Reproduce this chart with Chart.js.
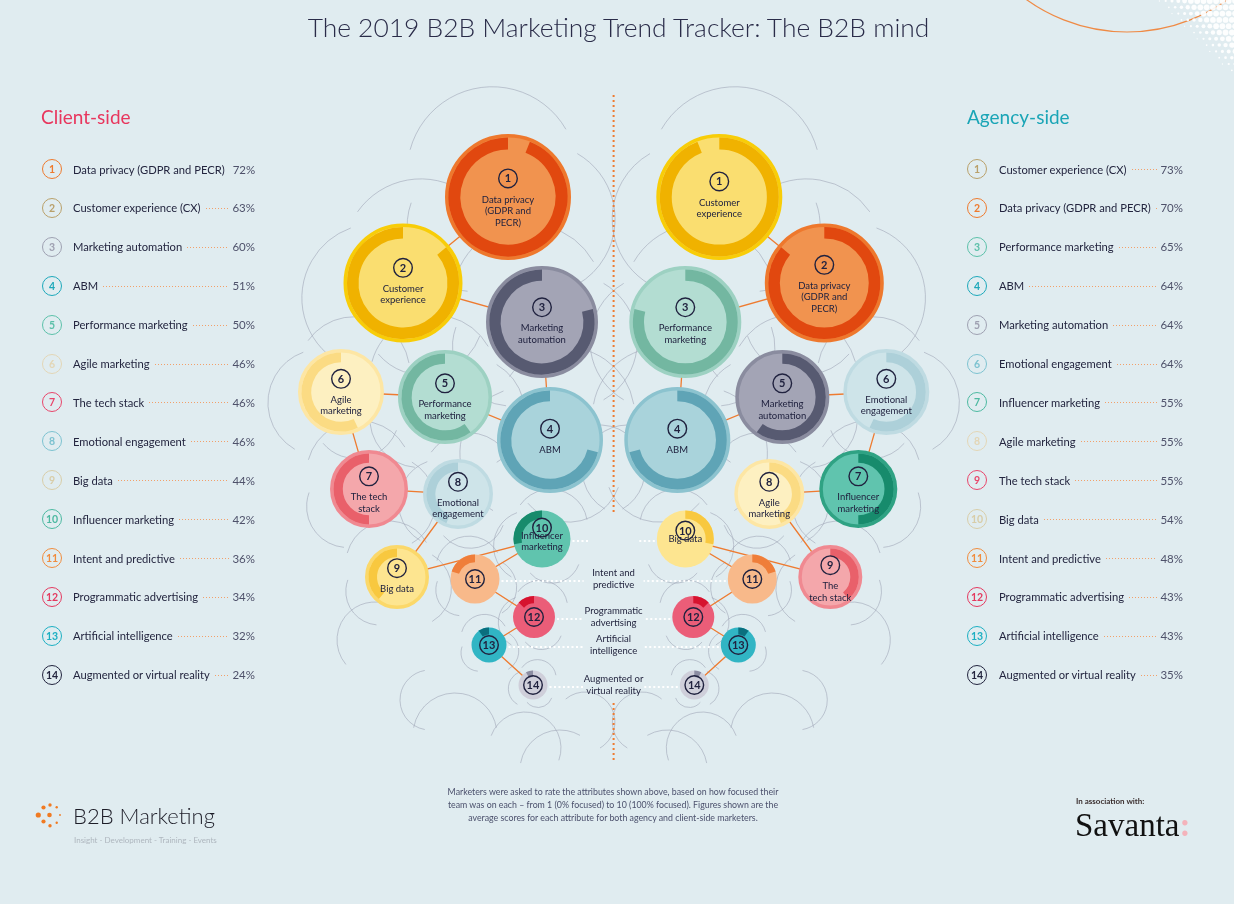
<!DOCTYPE html>
<html><head><meta charset="utf-8">
<script src="https://cdn.jsdelivr.net/npm/chart.js@4.4.1/dist/chart.umd.min.js"></script>
<style>
html,body{margin:0;padding:0}
body{width:1234px;height:904px;overflow:hidden;position:relative;background:#E0ECF0;font-family:Lato,"Open Sans",sans-serif;color:#272944}
#c{position:absolute;left:0;top:0}
.abs{position:absolute;white-space:nowrap}
#title{left:0;width:1237px;top:10px;text-align:center;font-size:26.4px;font-weight:300;line-height:34px;color:#2A2C49}
.side{font-size:19px;line-height:24px;top:105px}
.row{position:absolute;height:22px;display:flex;align-items:center;font-size:11.2px;white-space:nowrap}
.num{width:20px;height:20px;border:1.5px solid;border-radius:50%;box-sizing:border-box;display:flex;align-items:center;justify-content:center;font-weight:700;font-size:10.5px;flex:none}
.lab{color:#23253F;flex:none}
.lead{flex:1 1 auto;min-width:0;height:1px;margin:1px 3px 0 5px;background-image:linear-gradient(to right,#F2A06A 40%,transparent 40%);background-size:3px 1px;background-repeat:repeat-x}
.pct{color:#4E516A;flex:none;font-size:11.5px}
.mid{position:absolute;font-size:9.5px;line-height:11.5px;text-align:center;width:140px;color:#23253F}
</style></head>
<body>
<canvas id="c" width="1234" height="904"></canvas>
<div id="title" class="abs">The 2019 B2B Marketing Trend Tracker: The B2B mind</div>
<div class="abs side" style="left:41px;color:#E8365D">Client-side</div>
<div class="abs side" style="left:967px;color:#1AA5B6">Agency-side</div>
<div class="abs" style="left:363px;width:500px;top:786px;text-align:center;font-size:8.8px;line-height:12.8px;color:#4B506C">Marketers were asked to rate the attributes shown above, based on how focused their<br>team was on each – from 1 (0% focused) to 10 (100% focused). Figures shown are the<br>average scores for each attribute for both agency and client-side marketers.</div>
<div class="abs" style="left:73px;top:802px;font-size:22px;line-height:28px;font-weight:300;color:#1D1D28">B2B Marketing</div>
<div class="abs" style="left:74px;top:835px;font-size:8px;line-height:11px;color:#AEB6BE">Insight - Development - Training - Events</div>
<div class="abs" style="left:1076px;top:796px;font-size:8px;line-height:11px;font-weight:700;color:#3B2F2F">In association with:</div>
<div class="abs" style="left:1075px;top:806px;font-size:33px;line-height:38px;font-family:'Liberation Serif','DejaVu Serif',serif;color:#111">Savanta<span style="color:#F4B3BB;font-weight:700">:</span></div>
<script>
// ---------- DATA ----------
const CLIENT_ATTRIBUTES = ["Data privacy (GDPR and PECR)","Customer experience (CX)","Marketing automation","ABM","Performance marketing","Agile marketing","The tech stack","Emotional engagement","Big data","Influencer marketing","Intent and predictive","Programmatic advertising","Artificial intelligence","Augmented or virtual reality"];
const CLIENT_SCORES = [72,63,60,51,50,46,46,46,44,42,36,34,32,24];
const AGENCY_ATTRIBUTES = ["Customer experience (CX)","Data privacy (GDPR and PECR)","Performance marketing","ABM","Marketing automation","Emotional engagement","Influencer marketing","Agile marketing","The tech stack","Big data","Intent and predictive","Programmatic advertising","Artificial intelligence","Augmented or virtual reality"];
const AGENCY_SCORES = [73,70,65,64,64,64,55,55,55,54,48,43,43,35];
const CLIENT_BUBBLE_LABELS = [["Data privacy","(GDPR and","PECR)"],["Customer","experience"],["Marketing","automation"],["ABM"],["Performance","marketing"],["Agile","marketing"],["The tech","stack"],["Emotional","engagement"],["Big data"],["Influencer","marketing"],[],[],[],[]];
const AGENCY_BUBBLE_LABELS = [["Customer","experience"],["Data privacy","(GDPR and","PECR)"],["Performance","marketing"],["ABM"],["Marketing","automation"],["Emotional","engagement"],["Influencer","marketing"],["Agile","marketing"],["The","tech stack"],["Big data"],[],[],[],[]];
const CENTER_LABELS = [["Intent and","predictive"],["Programmatic","advertising"],["Artificial","intelligence"],["Augmented or","virtual reality"]];

// ---------- LAYOUT / STYLE ----------
const SLOT_X = [508,403,542,550,445,341,369,458,397,542,475,534,489,533];
const SLOT_Y = [197,283,322,440,397,392,489,494,577,539,579,617,645,685];
const MIRROR_X = 1227.3;
const MID_X = 613.6;
const RANK_R = [63,59.5,56,53,47,43,39,35,32,28.5,24.5,21,17.5,14.5];
const RANK_SWEEP = [0.94,0.86,0.79,0.71,0.6,0.57,0.5,0.44,0.39,0.28,0.2,0.13,0.1,0.08];
const LIST_Y0 = 169, LIST_STEP = 38.9;
const STYLE = {
 "Data privacy (GDPR and PECR)": {fill:"#F1934F",dark:"#E1480F",rim:"#EE782D",list:"#EE7A2E"},
 "Customer experience (CX)":     {fill:"#FADE70",dark:"#F0B200",rim:"#F8CD08",list:"#B9A06A"},
 "Marketing automation":         {fill:"#A3A4B5",dark:"#575A71",rim:"#8A8C9F",list:"#9EA0B1"},
 "ABM":                          {fill:"#A9D3DB",dark:"#5FA4B6",rim:"#8CC3CF",list:"#1DA8BA"},
 "Performance marketing":        {fill:"#B3DDD2",dark:"#73B7A1",rim:"#9DD1C2",list:"#5CC0A9"},
 "Agile marketing":              {fill:"#FDF0C1",dark:"#FBDB83",rim:"#FDE6A4",list:"#E3D6B6"},
 "The tech stack":               {fill:"#F4A7AB",dark:"#E9606A",rim:"#F08991",list:"#E8456A"},
 "Emotional engagement":         {fill:"#CEE4E9",dark:"#ADD0D9",rim:"#BFDBE2",list:"#7DC2D0"},
 "Big data":                     {fill:"#FDE590",dark:"#F8C83F",rim:"#FBD86A",list:"#D8CDA8"},
 "Influencer marketing":         {fill:"#60C4AE",dark:"#178B6C",rim:"#2FA283",list:"#4DB9A1"},
 "Intent and predictive":        {fill:"#F8B98A",dark:"#EF7E3A",rim:"#F39A5E",list:"#F08C3E"},
 "Programmatic advertising":     {fill:"#EB5D78",dark:"#D6132F",rim:"#E23A55",list:"#E4395F"},
 "Artificial intelligence":      {fill:"#31B5C4",dark:"#0A6F7E",rim:"#1E93A3",list:"#1CAFC2"},
 "Augmented or virtual reality": {fill:"#CFCFDA",dark:"#8C8DA2",rim:"#AEAFBF",list:"#22243E"}
};
const INK = "#20223F";
const rimW = i => i < 9 ? 3.5 : 0;
const xFor = (side, i) => side === 0 ? SLOT_X[i] : MIRROR_X - SLOT_X[i];

// ---------- HTML lists ----------
function buildList(attrs, scores, left, width, gap) {
  attrs.forEach((a, i) => {
    const row = document.createElement('div');
    row.className = 'row';
    row.style.left = left + 'px';
    row.style.width = width + 'px';
    row.style.top = (LIST_Y0 + i * LIST_STEP - 11) + 'px';
    const c = STYLE[a].list;
    row.innerHTML = `<span class="num" style="border-color:${c};color:${c}">${i + 1}</span><span class="lab" style="margin-left:${gap}px">${a}</span><span class="lead"></span><span class="pct">${scores[i]}%</span>`;
    document.body.appendChild(row);
  });
}
buildList(CLIENT_ATTRIBUTES, CLIENT_SCORES, 42, 213, 11);
buildList(AGENCY_ATTRIBUTES, AGENCY_SCORES, 967, 216, 12);
CENTER_LABELS.forEach((lines, k) => {
  const d = document.createElement('div');
  d.className = 'mid';
  d.style.left = (MID_X - 70) + 'px';
  d.style.top = (SLOT_Y[10 + k] - 12) + 'px';
  d.innerHTML = lines.join('<br>');
  document.body.appendChild(d);
});

// ---------- datasets ----------
function bubbleDataset(side, attrs) {
  return {
    type: 'bubble', order: 1, label: side === 0 ? 'Client-side' : 'Agency-side',
    data: attrs.map((a, i) => ({x: xFor(side, i), y: SLOT_Y[i], r: RANK_R[i] - rimW(i) / 2})),
    backgroundColor: attrs.map(a => STYLE[a].fill),
    borderColor: attrs.map(a => STYLE[a].rim),
    borderWidth: attrs.map((a, i) => rimW(i)),
    side: side, attrs: attrs
  };
}
function chainDataset(side, attrs) {
  return {
    type: 'line', order: 2, label: 'links',
    data: attrs.map((a, i) => ({x: xFor(side, i), y: SLOT_Y[i]})),
    borderColor: '#EE7B30', borderWidth: 1.3, pointRadius: 0, fill: false, tension: 0
  };
}

const GHOSTS_A = [[-0.25,-0.4,1.35,195,330],[0.5,0.35,1.2,300,60],[-0.55,0.45,1.05,95,200]];
const GHOSTS_B = [[0.3,-0.45,1.3,215,350],[-0.45,0.25,1.25,120,250],[0.35,0.55,1.0,20,140]];
const EXTRA_GHOSTS = [[455,735,42,190,350],[525,748,36,200,20],[585,722,30,230,60],[430,700,30,100,260],[560,770,40,190,300],[375,640,38,140,300],[600,470,45,250,60]];

const decoPlugin = {
  id: 'deco',
  beforeDatasetsDraw(chart) {
    const ctx = chart.ctx, sx = chart.scales.x, sy = chart.scales.y;
    ctx.save();
    ctx.strokeStyle = 'rgba(160,167,184,0.6)';
    ctx.lineWidth = 1;
    const D = Math.PI / 180;
    for (let side = 0; side < 2; side++) {
      for (let i = 0; i < 14; i++) {
        const cx = sx.getPixelForValue(xFor(side, i)), cy = sy.getPixelForValue(SLOT_Y[i]), R = RANK_R[i];
        const specs = i % 2 ? GHOSTS_B : GHOSTS_A;
        const s = side ? -1 : 1;
        specs.forEach(([dx, dy, k, a0, a1]) => {
          let b0 = a0 * D, b1 = a1 * D;
          if (side) { const t0 = Math.PI - b1, t1 = Math.PI - b0; b0 = t0; b1 = t1; }
          ctx.beginPath(); ctx.arc(cx + s * dx * R, cy + dy * R, k * R, b0, b1); ctx.stroke();
        });
      }
      EXTRA_GHOSTS.forEach(([x, y, r, a0, a1]) => {
        let b0 = a0 * D, b1 = a1 * D, X = x;
        if (side) { X = MIRROR_X - x; const t0 = Math.PI - b1, t1 = Math.PI - b0; b0 = t0; b1 = t1; }
        ctx.beginPath(); ctx.arc(sx.getPixelForValue(X), sy.getPixelForValue(y), r, b0, b1); ctx.stroke();
      });
    }
    ctx.fillStyle = '#EE7B30';
    const vx = sx.getPixelForValue(MID_X) - 1;
    for (let y = 95; y <= 512; y += 5) ctx.fillRect(vx, y, 2, 2);
    for (let y = 703; y <= 760; y += 5) ctx.fillRect(vx, y, 2, 2);
    ctx.strokeStyle = '#EF8A45'; ctx.lineWidth = 1.2;
    ctx.beginPath(); ctx.arc(1127, -140, 172, 0, Math.PI); ctx.stroke();
    ctx.fillStyle = 'rgba(255,255,255,0.92)';
    for (let j = 0; j < 14; j++) {
      const y = 1 + j * 6.3;
      for (let k = 0; k < 14; k++) {
        const x = 1235 - k * 6.3 - (j % 2) * 3.15;
        const t = (x - 1158) - y * 0.99;
        if (t <= 0) continue;
        const r = Math.min(2.9, 0.6 + t * 0.07);
        ctx.beginPath(); ctx.arc(x, y, r, 0, 2 * Math.PI); ctx.fill();
      }
    }
    ctx.fillStyle = '#F07A22';
    [[38.3,815,2.6],[43.5,807.5,2.1],[50,805,1.7],[56.7,807.3,1.2],[43.5,821.5,2.1],[50,825.7,1.7],[56.7,822.7,1.2],[49.5,815,2.3],[60,815,0.9]]
      .forEach(([x, y, r]) => { ctx.beginPath(); ctx.arc(x, y, r, 0, 2 * Math.PI); ctx.fill(); });
    ctx.restore();
  },
  afterDatasetsDraw(chart) {
    const ctx = chart.ctx;
    ctx.save();
    chart.data.datasets.forEach((ds, di) => {
      if (ds.type !== 'bubble') return;
      const meta = chart.getDatasetMeta(di);
      const side = ds.side;
      const labels = side === 0 ? CLIENT_BUBBLE_LABELS : AGENCY_BUBBLE_LABELS;
      meta.data.forEach((el, i) => {
        const a = ds.attrs[i], st = STYLE[a], R = RANK_R[i];
        const cx = el.x, cy = el.y;
        const band = 5 + 0.11 * R;
        const rr = R - rimW(i) - band / 2;
        const sw = RANK_SWEEP[i] * 2 * Math.PI;
        ctx.strokeStyle = st.dark; ctx.lineWidth = band; ctx.lineCap = 'butt';
        ctx.beginPath();
        if (side === 0) ctx.arc(cx, cy, rr, -Math.PI / 2 - sw, -Math.PI / 2);
        else ctx.arc(cx, cy, rr, -Math.PI / 2, -Math.PI / 2 + sw);
        ctx.stroke();
        const lines = labels[i];
        let ny;
        if (!lines.length) ny = cy;
        else ny = cy - (8 + 0.12 * R) - (lines.length - 2) * 3;
        ctx.strokeStyle = INK; ctx.lineWidth = 1.4;
        ctx.beginPath(); ctx.arc(cx, ny, 9.3, 0, 2 * Math.PI); ctx.stroke();
        ctx.fillStyle = INK; ctx.textAlign = 'center'; ctx.textBaseline = 'middle';
        ctx.font = 'bold 11px Lato, sans-serif';
        ctx.fillText(String(i + 1), cx, ny + 0.5);
        ctx.font = '9.5px Lato, sans-serif';
        const ly = i === 9 ? ny + 8 : ny + 21;
        lines.forEach((t, k) => ctx.fillText(t, cx, ly + k * 11.5));
        if (i >= 9) {
          const edge = side === 0 ? cx + R + 2 : cx - R - 2;
          const off = i === 9 ? 24 : 30;
          const end = chart.scales.x.getPixelForValue(side === 0 ? MID_X - off : MID_X + off);
          ctx.strokeStyle = '#FFFFFF'; ctx.lineWidth = 2; ctx.setLineDash([2, 2.5]);
          ctx.beginPath(); ctx.moveTo(edge, cy + 2); ctx.lineTo(end, cy + 2); ctx.stroke();
          ctx.setLineDash([]);
        }
      });
    });
    ctx.restore();
  }
};

new Chart(document.getElementById('c'), {
  type: 'bubble',
  data: {
    datasets: [
      bubbleDataset(0, CLIENT_ATTRIBUTES),
      bubbleDataset(1, AGENCY_ATTRIBUTES),
      chainDataset(0, CLIENT_ATTRIBUTES),
      chainDataset(1, AGENCY_ATTRIBUTES)
    ]
  },
  options: {
    responsive: false, animation: false, devicePixelRatio: 1, events: [],
    layout: {padding: 0, autoPadding: false},
    scales: {
      x: {type: 'linear', min: 0, max: 1234, display: false},
      y: {type: 'linear', min: 0, max: 904, reverse: true, display: false}
    },
    plugins: {legend: {display: false}, tooltip: {enabled: false}}
  },
  plugins: [decoPlugin]
});
</script>
</body></html>
